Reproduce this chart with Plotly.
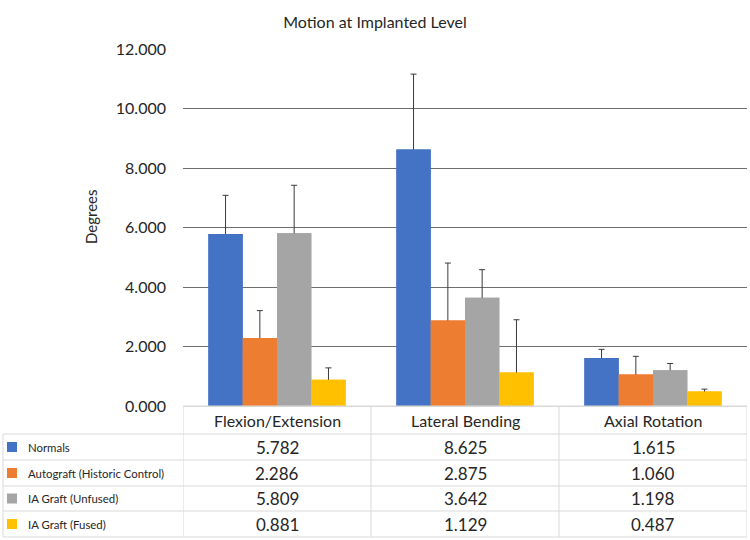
import plotly.graph_objects as go

categories = ["Flexion/Extension", "Lateral Bending", "Axial Rotation"]
series_names = ["Normals", "Autograft (Historic Control)", "IA Graft (Unfused)", "IA Graft (Fused)"]
normals = [5.782, 8.625, 1.615]
autograft = [2.286, 2.875, 1.060]
ia_unfused = [5.809, 3.642, 1.198]
ia_fused = [0.881, 1.129, 0.487]
normals_err = [1.30, 2.53, 0.29]
autograft_err = [0.92, 1.93, 0.61]
ia_unfused_err = [1.61, 0.94, 0.23]
ia_fused_err = [0.40, 1.77, 0.08]
y_ticks = [0, 2, 4, 6, 8, 10, 12]

values = [normals, autograft, ia_unfused, ia_fused]
errors = [normals_err, autograft_err, ia_unfused_err, ia_fused_err]
colors = ["#4472C4", "#ED7D31", "#A5A5A5", "#FFC000"]

W, H = 750, 540
L, R, T, B = 183, 3, 49, 134
PH = H - T - B
PW = W - L - R
FONT = "Lato"
TXT = "#262626"


def py(p):
    return (H - B - p) / PH


def px(p):
    return (p - L) / PW


fig = go.Figure()
# bars carrying the error bars; the lower half of each error bar stays inside
# the bar and is hidden by the copy drawn on top, so only the upper part shows
for name, vals, errs, col in zip(series_names, values, errors, colors):
    fig.add_trace(go.Bar(
        x=categories, y=vals, name=name, marker=dict(color=col, line=dict(width=0)),
        error_y=dict(type="data", array=errs, arrayminus=[v / 2 for v in vals], symmetric=False,
                     color="#3a3a3a", thickness=1, width=3),
        showlegend=False, yaxis="y",
    ))
for name, vals, col in zip(series_names, values, colors):
    fig.add_trace(go.Bar(
        x=categories, y=vals, name=name, marker=dict(color=col, line=dict(width=0)),
        showlegend=False, yaxis="y2", hoverinfo="skip",
    ))

shapes = []
annotations = []
grid_col = "#d9d9d9"
row_edges = [406, 434, 460, 486, 511, 537]
shapes.append(dict(type="line", xref="paper", yref="paper", x0=px(L), x1=px(W - R),
                   y0=py(row_edges[0]), y1=py(row_edges[0]), line=dict(color=grid_col, width=1)))
for e in row_edges[1:]:
    shapes.append(dict(type="line", xref="paper", yref="paper", x0=px(3), x1=px(W - R),
                       y0=py(e), y1=py(e), line=dict(color=grid_col, width=1)))
for i in range(len(categories) + 1):
    shapes.append(dict(type="line", xref="x", yref="paper", x0=i - 0.5, x1=i - 0.5,
                       y0=py(row_edges[0]), y1=py(row_edges[-1]), line=dict(color=grid_col, width=1)))
shapes.append(dict(type="line", xref="paper", yref="paper", x0=px(3), x1=px(3),
                   y0=py(row_edges[1]), y1=py(row_edges[-1]), line=dict(color=grid_col, width=1)))

for i, c in enumerate(categories):
    annotations.append(dict(x=i, y=py((row_edges[0] + row_edges[1]) / 2), xref="x", yref="paper",
                            text=c, showarrow=False, font=dict(size=16, color=TXT, family=FONT),
                            xanchor="center", yanchor="middle"))
for r, (name, vals, col) in enumerate(zip(series_names, values, colors)):
    cy = (row_edges[r + 1] + row_edges[r + 2]) / 2
    shapes.append(dict(type="rect", xref="paper", yref="paper", x0=px(7), x1=px(17),
                       y0=py(cy + 5), y1=py(cy - 5), fillcolor=col, line=dict(width=0)))
    annotations.append(dict(x=px(26), y=py(cy), xref="paper", yref="paper", text=name,
                            showarrow=False, font=dict(size=11.4, color=TXT, family=FONT),
                            xanchor="left", yanchor="middle"))
    for i, v in enumerate(vals):
        annotations.append(dict(x=i, y=py(cy), xref="x", yref="paper", text=f"{v:.3f}",
                                showarrow=False, font=dict(size=17, color=TXT, family=FONT),
                                xanchor="center", yanchor="middle"))

annotations.append(dict(x=px(91), y=py(216), xref="paper", yref="paper", text="Degrees",
                        textangle=-90, showarrow=False, font=dict(size=15, color=TXT, family=FONT),
                        xanchor="center", yanchor="middle"))

fig.update_layout(
    width=W, height=H,
    margin=dict(l=L, r=R, t=T, b=B, pad=0),
    paper_bgcolor="white", plot_bgcolor="white",
    barmode="group", bargap=0.27, bargroupgap=0,
    title=dict(text="Motion at Implanted Level", x=0.5, xref="container", y=1 - 22 / H,
               yref="container", xanchor="center", yanchor="middle",
               font=dict(size=16, color=TXT, family=FONT)),
    font=dict(family=FONT, color=TXT),
    xaxis=dict(range=[-0.5, 2.5], showticklabels=False, showgrid=False, zeroline=False,
               showline=False, ticks=""),
    yaxis=dict(range=[0, 12], tickvals=y_ticks, tickformat=".3f", showgrid=True,
               gridcolor="#6e6e6e", gridwidth=1, zeroline=True, zerolinecolor=grid_col,
               zerolinewidth=1, showline=False, ticks="", ticklen=0, ticklabelstandoff=16,
               tickfont=dict(size=16, color=TXT, family=FONT)),
    yaxis2=dict(range=[0, 12], overlaying="y", visible=False, showgrid=False, zeroline=False),
    shapes=shapes, annotations=annotations,
)

fig.write_html("out.html")
